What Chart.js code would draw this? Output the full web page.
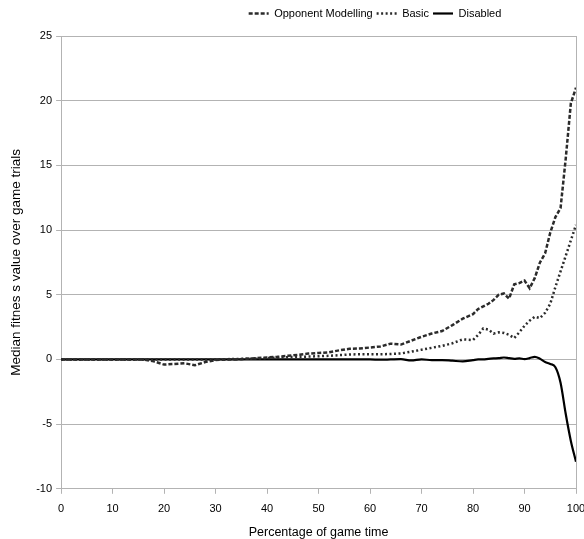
<!DOCTYPE html>
<html>
<head>
<meta charset="utf-8">
<script src="https://cdn.jsdelivr.net/npm/chart.js@4.4.0/dist/chart.umd.min.js"></script>
<style>
  body { margin: 0; background: #fff; }
  #wrap { width: 584px; height: 539px; }
</style>
</head>
<body>
<div id="wrap"><canvas id="grafico" width="584" height="539"></canvas></div>
<script>
// percentage of game time (x positions of the samples)
const tempo = [0, 2, 4, 6, 8, 10, 12, 14, 16, 18, 20, 22, 24, 26, 28, 30, 32, 34, 36, 38, 40,
  42, 44, 46, 48, 50, 52, 54, 56, 58, 60, 62, 64, 66, 68, 70, 72, 74, 76, 78, 80,
  81, 82, 83, 84, 85, 86, 87, 88, 89, 90, 91, 92, 93, 94, 95, 96, 97, 98, 99, 100];

const opponentModelling = [0, 0, 0, 0, 0, 0, 0, 0, 0, -0.15, -0.4, -0.35, -0.3, -0.45, -0.2, -0.05, 0, 0, 0.05, 0.1, 0.15,
  0.2, 0.28, 0.35, 0.45, 0.5, 0.55, 0.7, 0.82, 0.85, 0.92, 1.0, 1.22, 1.15, 1.45, 1.75, 2.0, 2.2, 2.65, 3.15, 3.5,
  3.9, 4.1, 4.3, 4.6, 5.0, 5.1, 4.7, 5.8, 5.9, 6.1, 5.5, 6.3, 7.5, 8.2, 9.8, 11.0, 11.7, 15.5, 19.8, 21.0];

const basic = [0, 0, 0, 0, 0, 0, 0, 0, 0, 0, 0, 0, 0, 0, 0, 0, 0.02, 0.03, 0.05, 0.07, 0.1,
  0.13, 0.17, 0.2, 0.22, 0.25, 0.28, 0.33, 0.38, 0.4, 0.4, 0.4, 0.42, 0.46, 0.6, 0.75, 0.9, 1.05, 1.25, 1.55, 1.5,
  1.9, 2.4, 2.3, 2.0, 2.1, 2.05, 1.9, 1.65, 2.1, 2.6, 3.0, 3.3, 3.2, 3.6, 4.3, 5.6, 6.8, 8.0, 9.2, 10.4];

const disabled = [0, 0, 0, 0, 0, 0, 0, 0, 0, 0, 0, 0, 0, 0, 0, 0, 0, 0, 0, 0, 0,
  0, 0, 0, 0, 0, 0, 0, 0, 0, 0, -0.02, 0, 0.02, -0.08, 0, -0.05, -0.05, -0.1, -0.15, -0.05,
  0, 0, 0.05, 0.08, 0.1, 0.15, 0.1, 0.05, 0.08, 0.02, 0.1, 0.2, 0.05, -0.2, -0.35, -0.6, -1.8, -4.2, -6.3, -7.9];

const yTicks = [-10, -5, 0, 5, 10, 15, 20, 25];
const xTicks = [0, 10, 20, 30, 40, 50, 60, 70, 80, 90, 100];

function pontos(ys) {
  return tempo.map((x, i) => ({ x: x, y: ys[i] }));
}

const familia = "'Liberation Sans', Arial, sans-serif";
const fonte = { family: familia, size: 11 };
const fonteTitulo = { family: familia, size: 12.5 };
const cinza = '#b3b3b3';

// legend sits right of centre and leaves a gap above the plot
const ajustarLegenda = {
  id: 'ajustarLegenda',
  beforeInit(chart) {
    const fitOriginal = chart.legend.fit;
    chart.legend.fit = function () {
      fitOriginal.call(this);
      this.height += 7;
    };
  },
  afterLayout(chart) {
    const l = chart.legend;
    l.left = 166;
    l.right = 584;
  }
};

new Chart(document.getElementById('grafico').getContext('2d'), {
  type: 'line',
  data: {
    datasets: [
      {
        label: 'Opponent Modelling',
        data: pontos(opponentModelling),
        borderColor: '#2b2b2b',
        borderWidth: 2.5,
        borderDash: [4, 2],
        pointRadius: 0,
        tension: 0
      },
      {
        label: 'Basic',
        data: pontos(basic),
        borderColor: '#2b2b2b',
        borderWidth: 2.5,
        borderDash: [2, 2.5],
        pointRadius: 0,
        tension: 0
      },
      {
        label: 'Disabled',
        data: pontos(disabled),
        borderColor: '#000',
        borderWidth: 2.2,
        pointRadius: 0,
        cubicInterpolationMode: 'monotone'
      }
    ]
  },
  plugins: [ajustarLegenda],
  options: {
    responsive: false,
    animation: false,
    layout: { padding: { left: 8, right: 0, top: 4, bottom: -1 } },
    plugins: {
      legend: {
        position: 'top',
        labels: {
          font: fonte,
          color: '#000',
          usePointStyle: true,
          pointStyle: 'line',
          pointStyleWidth: 20,
          boxHeight: 11,
          padding: 4,
          generateLabels(chart) {
            const itens = Chart.defaults.plugins.legend.labels.generateLabels(chart);
            itens.forEach(item => {
              const ds = chart.data.datasets[item.datasetIndex];
              item.lineDash = ds.borderDash || [];
              item.lineWidth = ds.borderWidth;
              item.strokeStyle = ds.borderColor;
            });
            return itens;
          }
        }
      },
      tooltip: { enabled: false }
    },
    scales: {
      x: {
        type: 'linear',
        min: 0,
        max: 100,
        afterBuildTicks: axis => { axis.ticks = xTicks.map(v => ({ value: v })); },
        afterFit: axis => { axis.paddingRight = 8; axis.paddingLeft = 0; },
        ticks: { font: fonte, color: '#000', maxRotation: 0, padding: 9 },
        grid: {
          color: ctx => ctx.tick && ctx.tick.value === 100 ? cinza : 'rgba(0,0,0,0)',
          tickColor: cinza,
          tickLength: 5
        },
        border: { color: cinza },
        title: { display: true, text: 'Percentage of game time', font: fonteTitulo, color: '#000', padding: { top: 0, bottom: 0 } }
      },
      y: {
        min: -10,
        max: 25,
        afterBuildTicks: axis => { axis.ticks = yTicks.map(v => ({ value: v })); },
        ticks: { font: fonte, color: '#000', padding: 4 },
        grid: { color: cinza, tickColor: cinza, tickLength: 5 },
        border: { color: cinza },
        title: { display: true, text: 'Median fitnes s value over game trials', font: { family: familia, size: 13.5 }, color: '#000', padding: { top: 0, bottom: 8 } }
      }
    }
  }
});
</script>
</body>
</html>
